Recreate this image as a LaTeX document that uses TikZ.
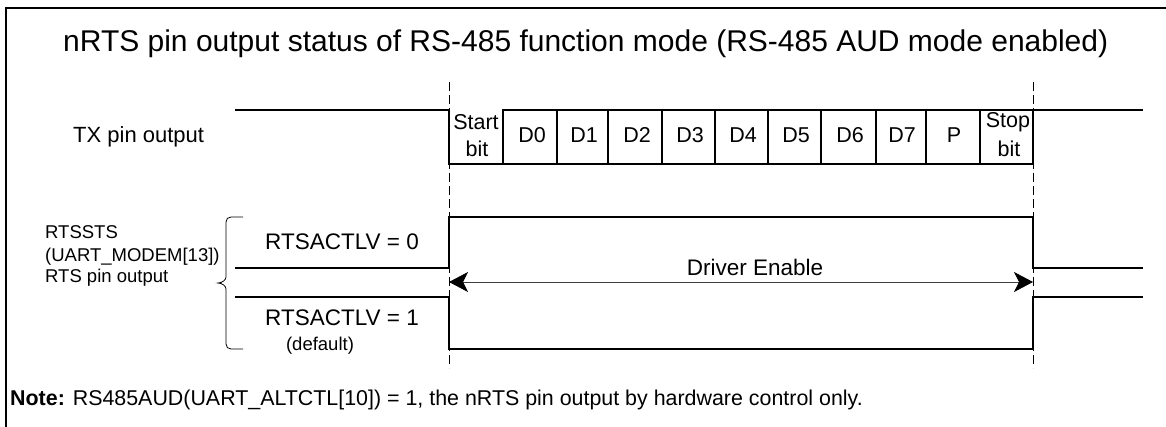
\documentclass[tikz,border=0pt]{standalone}
\usepackage{fontspec}
\setmainfont{Liberation Sans}
\usetikzlibrary{arrows.meta}
\begin{document}
\begin{tikzpicture}[x=1pt,y=-1pt,
  sig/.style={line width=2.2pt, line join=miter, line cap=rect},
  guide/.style={line width=0.9pt, dash pattern=on 9pt off 4pt},
  frame/.style={line width=2.5pt},
  txt/.style={inner sep=0pt, anchor=base, font=\fontsize{#1}{#1}\selectfont},
  txt/.default=22,
  ltxt/.style={inner sep=0pt, anchor=base west, font=\fontsize{#1}{#1}\selectfont},
  ltxt/.default=18.5,
  head/.tip={Stealth[length=19pt,width=20pt,inset=5pt,color=black]}
]
\useasboundingbox (0,0) rectangle (1166,427);
\draw[frame] (6,430) -- (6,8) -- (1170,8);

% title
\node[ltxt=30] (title) at (63,52) {nRTS pin output status of RS-485 function mode (RS-485 AUD mode enabled)};

% guides
\coordinate (g1t) at (449,82); \coordinate (g1b) at (449,368);
\coordinate (g2t) at (1033,82); \coordinate (g2b) at (1033,368);
\draw[guide] (g1t) -- (g1b);
\draw[guide] (g2t) -- (g2b);

% TX
\node[ltxt=22] (tx) at (73,143) {TX pin output};
\draw[sig] (236,110) -- (449,110) -- (449,164) -- (1033,164) -- (1033,110);
\draw[sig] (503,110) -- (1142,110);
\foreach \x in {503,557,608,662,715,768,821,876,926,980}
  \draw[sig] (\x,110) -- (\x,164);
\node[txt=21.5] (start1) at (476,130) {Start};
\node[txt=21.5] (start2) at (477,157) {bit};
\node[txt=21.5] (d0) at (532,143) {D0};
\node[txt=21.5] (d1) at (584,143) {D1};
\node[txt=21.5] (d2) at (637,143) {D2};
\node[txt=21.5] (d3) at (690,143) {D3};
\node[txt=21.5] (d4) at (743,143) {D4};
\node[txt=21.5] (d5) at (796,143) {D5};
\node[txt=21.5] (d6) at (850,143) {D6};
\node[txt=21.5] (d7) at (902,143) {D7};
\node[txt=21.5] (p) at (954,143) {P};
\node[txt=21.5] (stop1) at (1008,128) {Stop};
\node[txt=21.5] (stop2) at (1009,157) {bit};

% RTS labels
\node[ltxt] (l1) at (45,239) {RTSSTS};
\node[ltxt] (l2) at (45,262) {(UART\_MODEM[13])};
\node[ltxt] (l3) at (45,283) {RTS pin output};
\draw[line width=0.8pt] (243,217) -- (231,217) .. controls (228,217) and (226,219) .. (226,222) -- (226,277)
  .. controls (226,280) and (222,283) .. (218,283) .. controls (222,283) and (226,286) .. (226,289)
  -- (226,344) .. controls (226,347) and (228,349) .. (231,349) -- (243,349);

\node[txt=22.5] (lv0) at (342,250) {RTSACTLV = 0};
\node[txt=22.5] (lv1) at (342,325) {RTSACTLV = 1};
\node[txt=18.5] (def) at (320,350) {(default)};

\draw[sig] (236,268) -- (449,268) -- (449,217) -- (1033,217) -- (1033,268) -- (1142,268);
\draw[sig] (236,297) -- (449,297) -- (449,349) -- (1033,349) -- (1033,297) -- (1142,297);

% driver enable arrow
\coordinate (a1) at (449,282); \coordinate (a2) at (1033,282);
\draw[line width=0.8pt, draw=black!75, {head}-{head}] (a1) -- (a2);
\node[txt=22.5] (de) at (755,276) {Driver Enable};

% note
\node[ltxt=21.4] (note) at (10,405) {\textbf{Note:} RS485AUD(UART\_ALTCTL[10]) = 1, the nRTS pin output by hardware control only.};
\end{tikzpicture}
\end{document}
